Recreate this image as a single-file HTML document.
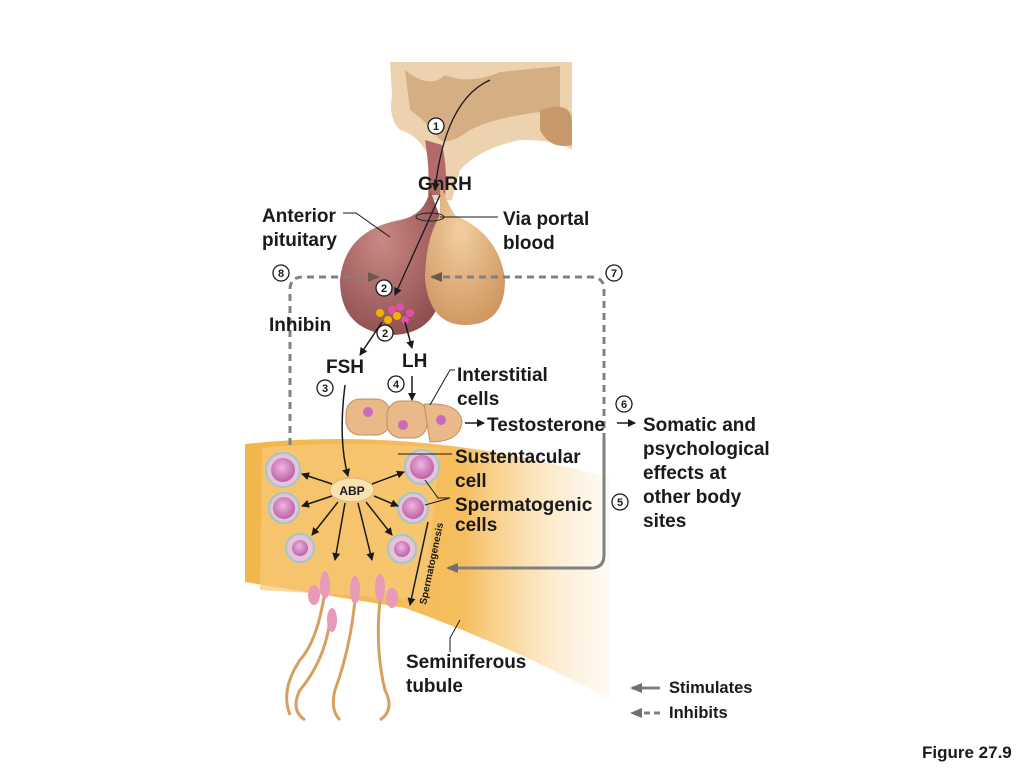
<!DOCTYPE html>
<html><head><meta charset="utf-8"><style>
html,body{margin:0;padding:0;background:#fff;width:1024px;height:768px;overflow:hidden}
svg{display:block}
text{font-family:"Liberation Sans",sans-serif;font-weight:bold;fill:#1a1a1a}
</style></head><body>
<svg width="1024" height="768" viewBox="0 0 1024 768" xmlns="http://www.w3.org/2000/svg">
<defs>
<radialGradient id="ant" cx="0.4" cy="0.35" r="0.7"><stop offset="0" stop-color="#c98a84"/><stop offset="1" stop-color="#8e4e50"/></radialGradient>
<radialGradient id="post" cx="0.45" cy="0.35" r="0.7"><stop offset="0" stop-color="#f2cfa0"/><stop offset="1" stop-color="#cf9660"/></radialGradient>
<linearGradient id="tub" x1="0" y1="0" x2="1" y2="0"><stop offset="0" stop-color="#f3b64e"/><stop offset="0.6" stop-color="#f5be5e"/><stop offset="1" stop-color="#fde9c6" stop-opacity="0.2"/></linearGradient>
<radialGradient id="cell" cx="0.45" cy="0.4" r="0.6"><stop offset="0" stop-color="#f2b4e0"/><stop offset="1" stop-color="#b763a8"/></radialGradient>
<marker id="ah" markerWidth="8" markerHeight="8" refX="7" refY="4" orient="auto" markerUnits="userSpaceOnUse"><path d="M0,0 L8,4 L0,8 Z" fill="#1a1a1a"/></marker>
<marker id="gh" markerWidth="12" markerHeight="10" refX="10" refY="5" orient="auto" markerUnits="userSpaceOnUse"><path d="M0,0 L12,5 L0,10 Z" fill="#707070"/></marker>
<marker id="dh" markerWidth="12" markerHeight="10" refX="10" refY="5" orient="auto" markerUnits="userSpaceOnUse"><path d="M0,0 L12,5 L0,10 Z" fill="#6a5a4a"/></marker>
</defs>
<!-- hypothalamus -->
<path d="M390,62 L572,62 L572,150 Q560,140 520,140 Q480,148 460,170 L452,200 L430,200 L430,160 Q420,135 400,130 Q388,118 392,95 Z" fill="#ecd2ae"/>
<path d="M405,70 Q430,90 445,75 Q470,85 500,72 L560,66 L560,110 Q500,115 470,130 Q450,145 440,140 Q425,120 410,110 Z" fill="#d6ae84"/>
<path d="M540,110 Q570,100 572,120 L572,145 Q550,150 540,130 Z" fill="#c7996b"/>
<path d="M425,140 Q430,170 428,195 L445,195 Q448,170 442,145 Z" fill="#b36a6a"/>
<!-- pituitary -->
<path d="M430,190 Q425,215 400,220 Q345,230 340,280 Q340,330 390,335 Q430,335 440,300 L445,230 Z" fill="url(#ant)"/>
<path d="M440,180 Q445,200 455,215 Q500,235 505,280 Q505,325 465,325 Q430,325 425,280 Q425,240 440,215 Z" fill="url(#post)"/>
<ellipse cx="430" cy="217" rx="14" ry="4" fill="none" stroke="#222" stroke-width="1"/>
<!-- tubule band -->
<path d="M245,444 Q420,425 610,478 L610,700 Q520,650 405,608 L245,582 Z" fill="url(#tub)"/>
<path d="M262,448 Q340,440 440,448 L425,600 L260,590 Z" fill="#f7c978" opacity="0.7"/>
<!-- interstitial cells -->
<rect x="346" y="399" width="44" height="36" rx="14" fill="#e9b98a" stroke="#c38e5f"/>
<rect x="387" y="401" width="40" height="37" rx="14" fill="#e9b98a" stroke="#c38e5f"/>
<path d="M424,404 Q460,402 462,422 Q460,442 430,442 Z" fill="#e9b98a" stroke="#c38e5f"/>
<circle cx="368" cy="412" r="5" fill="#c96bbd"/><circle cx="403" cy="425" r="5" fill="#c96bbd"/><circle cx="441" cy="420" r="5" fill="#c96bbd"/>
<!-- secretory granules -->
<g fill="#e24fa8"><circle cx="392" cy="310" r="4"/><circle cx="400" cy="307" r="4"/><circle cx="410" cy="313" r="4"/><circle cx="405" cy="320" r="4"/></g>
<g fill="#f3b200"><circle cx="380" cy="313" r="4"/><circle cx="388" cy="320" r="4"/><circle cx="397" cy="316" r="4"/></g>
<!-- spermatogenic cells -->
<g stroke="#9cc8d0" stroke-width="2">
<circle cx="283" cy="470" r="17" fill="#e7c3d8"/><circle cx="284" cy="508" r="15" fill="#e7c3d8"/><circle cx="300" cy="548" r="14" fill="#e7c3d8"/>
<circle cx="422" cy="467" r="17" fill="#e7c3d8"/><circle cx="413" cy="508" r="15" fill="#e7c3d8"/><circle cx="402" cy="549" r="14" fill="#e7c3d8"/>
</g>
<g fill="url(#cell)"><circle cx="283" cy="470" r="12"/><circle cx="284" cy="508" r="11"/><circle cx="300" cy="548" r="8"/><circle cx="422" cy="467" r="12"/><circle cx="413" cy="508" r="11"/><circle cx="402" cy="549" r="8"/></g>
<!-- sperm -->
<g fill="none" stroke="#d6a060" stroke-width="3">
<path d="M325,590 Q318,640 300,660 Q280,690 290,715"/>
<path d="M355,600 Q350,650 335,690 Q330,710 340,720"/>
<path d="M380,600 Q375,650 385,690 Q395,710 380,720"/>
<path d="M330,620 Q325,660 300,690 Q290,710 305,720"/>
</g>
<g fill="#e89ab8"><ellipse cx="325" cy="585" rx="5" ry="14"/><ellipse cx="355" cy="590" rx="5" ry="14"/><ellipse cx="380" cy="588" rx="5" ry="14"/><ellipse cx="332" cy="620" rx="5" ry="12"/><ellipse cx="314" cy="595" rx="6" ry="10"/><ellipse cx="392" cy="598" rx="6" ry="10"/></g>
<!-- ABP -->
<ellipse cx="352" cy="490" rx="22" ry="12" fill="#f9e2b0" stroke="#d9b37a"/>
<text x="352" y="495" font-size="12" text-anchor="middle">ABP</text>
<g stroke="#1a1a1a" stroke-width="1.5" fill="none" marker-end="url(#ah)">
<path d="M332,484 L302,474"/><path d="M372,484 L404,472"/><path d="M332,496 L302,506"/><path d="M374,496 L398,506"/>
<path d="M338,502 L312,535"/><path d="M366,502 L392,535"/><path d="M345,503 L335,560"/><path d="M358,503 L372,560"/>
<path d="M345,385 Q338,440 348,476"/>
<path d="M490,80 Q445,100 435,190" stroke-width="1.3"/>
<path d="M440,195 L395,295" stroke-width="1.3"/>
<path d="M382,322 L360,355"/><path d="M405,322 L412,348"/>
<path d="M412,376 L412,400"/>
<path d="M465,423 L484,423"/><path d="M617,423 L635,423"/>
<path d="M428,522 L410,605"/>
</g>
<!-- leader lines -->
<g stroke="#1a1a1a" stroke-width="1" fill="none">
<path d="M343,213 L356,213 L390,237"/><path d="M440,217 L498,217"/>
<path d="M455,370 L450,370 L430,405"/><path d="M452,454 L398,454"/>
<path d="M450,498 L438,498 L425,480"/><path d="M450,498 L425,505"/>
<path d="M460,620 L450,638 L450,652"/>
</g>
<!-- feedback lines -->
<path d="M290,445 L290,290 Q290,277 303,277 L378,277" fill="none" stroke="#808080" stroke-width="3" stroke-dasharray="7,5" marker-end="url(#dh)"/>
<path d="M604,440 L604,290 Q604,277 591,277 L432,277" fill="none" stroke="#808080" stroke-width="3" stroke-dasharray="7,5" marker-end="url(#dh)"/>
<path d="M604,440 L604,555 Q604,568 591,568 L448,568" fill="none" stroke="#808080" stroke-width="3" marker-end="url(#gh)"/>
<!-- rotated label -->
<text transform="translate(426,605) rotate(-78)" font-size="10">Spermatogenesis</text>
<!-- step circles -->
<g font-size="11" text-anchor="middle">
<g fill="#fff" stroke="#1a1a1a" stroke-width="1.3">
<circle cx="436" cy="126" r="8"/><circle cx="384" cy="288" r="8"/><circle cx="385" cy="333" r="8"/><circle cx="281" cy="273" r="8"/><circle cx="614" cy="273" r="8"/><circle cx="325" cy="388" r="8"/><circle cx="396" cy="384" r="8"/><circle cx="624" cy="404" r="8"/><circle cx="620" cy="502" r="8"/>
</g>
<text x="436" y="130">1</text><text x="384" y="292">2</text><text x="385" y="337">2</text><text x="281" y="277">8</text><text x="614" y="277">7</text><text x="325" y="392">3</text><text x="396" y="388">4</text><text x="624" y="408">6</text><text x="620" y="506">5</text>
</g>
<g font-size="19">
<text x="418" y="190">GnRH</text>
<text x="262" y="222">Anterior</text><text x="262" y="246">pituitary</text>
<text x="503" y="225">Via portal</text><text x="503" y="249">blood</text>
<text x="269" y="331">Inhibin</text>
<text x="326" y="373">FSH</text><text x="402" y="367">LH</text>
<text x="457" y="381">Interstitial</text><text x="457" y="405">cells</text>
<text x="487" y="431">Testosterone</text>
<text x="643" y="431">Somatic and</text><text x="643" y="455">psychological</text><text x="643" y="479">effects at</text><text x="643" y="503">other body</text><text x="643" y="527">sites</text>
<text x="455" y="463">Sustentacular</text><text x="455" y="487">cell</text><text x="455" y="511">Spermatogenic</text><text x="455" y="531">cells</text>
<text x="406" y="668">Seminiferous</text><text x="406" y="692">tubule</text>
</g>
<!-- legend -->
<path d="M660,688 L632,688" stroke="#808080" stroke-width="3" marker-end="url(#gh)"/>
<path d="M660,713 L632,713" stroke="#808080" stroke-width="3" stroke-dasharray="6,4" marker-end="url(#gh)"/>
<text x="669" y="693" font-size="16.5">Stimulates</text>
<text x="669" y="718" font-size="16.5">Inhibits</text>
<text x="922" y="758" font-size="17">Figure 27.9</text>
</svg>
</body></html>
